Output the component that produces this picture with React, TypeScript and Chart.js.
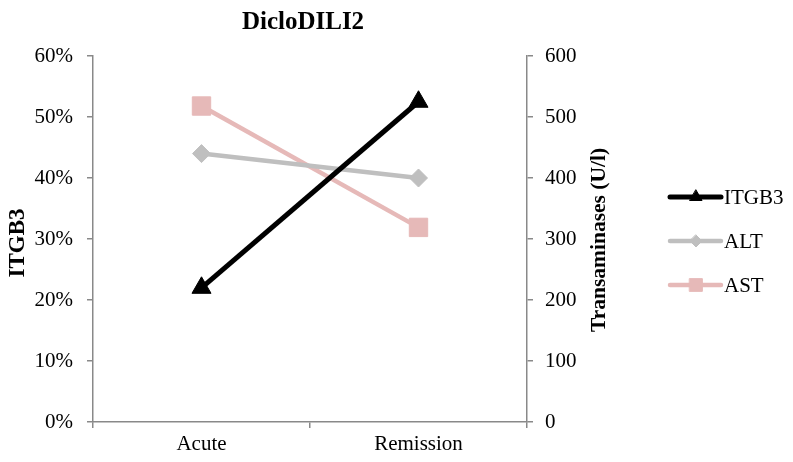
import React, { useEffect, useRef } from "react";
import { Chart, registerables } from "chart.js";

Chart.register(...registerables);

const chartTitle = "DicloDILI2";
const categories = ["Acute", "Remission"];
const itgb3 = [0.22, 0.525];
const alt = [440, 400];
const ast = [518, 319];
const leftTicks = [0, 0.1, 0.2, 0.3, 0.4, 0.5, 0.6];
const rightTicks = [0, 100, 200, 300, 400, 500, 600];
const leftTitle = "ITGB3";
const rightTitle = "Transaminases (U/l)";

const FONT = "'Liberation Serif', 'Times New Roman', serif";
const AXIS = "#898989";

function drawMarker(ctx: CanvasRenderingContext2D, style: string, r: number, x: number, y: number) {
  ctx.beginPath();
  if (style === "triangle") {
    ctx.moveTo(x, y - r);
    ctx.lineTo(x + r * 0.866, y + r * 0.5);
    ctx.lineTo(x - r * 0.866, y + r * 0.5);
    ctx.closePath();
  } else if (style === "rectRot") {
    ctx.moveTo(x, y - r);
    ctx.lineTo(x + r, y);
    ctx.lineTo(x, y + r);
    ctx.lineTo(x - r, y);
    ctx.closePath();
  } else {
    const s = r * Math.SQRT1_2;
    ctx.rect(x - s, y - s, 2 * s, 2 * s);
  }
  ctx.fill();
  ctx.stroke();
}

const customPlugin = {
  id: "custom",
  afterDraw(chart: any) {
    const ctx = chart.ctx;
    ctx.save();
    ctx.fillStyle = "#000";
    ctx.font = `bold 25px ${FONT}`;
    ctx.textAlign = "center";
    ctx.textBaseline = "middle";
    ctx.fillText(chartTitle, 303, 23);

    // axis titles (both read bottom-to-top)
    ctx.save();
    ctx.translate(18, 243);
    ctx.rotate(-Math.PI / 2);
    ctx.font = `bold 23px ${FONT}`;
    ctx.fillText(leftTitle, 0, 0);
    ctx.restore();

    ctx.save();
    ctx.translate(599, 240);
    ctx.rotate(-Math.PI / 2);
    ctx.font = `bold 21.5px ${FONT}`;
    ctx.fillText(rightTitle, 0, 0);
    ctx.restore();

    const markers = [
      { style: "triangle", r: 7 },
      { style: "rectRot", r: 6 },
      { style: "rect", r: 9 },
    ];
    chart.data.datasets.forEach((ds: any, i: number) => {
      const y = 197 + i * 44;
      ctx.strokeStyle = ds.borderColor;
      ctx.lineWidth = ds.borderWidth;
      ctx.lineCap = "round";
      ctx.beginPath();
      ctx.moveTo(670, y);
      ctx.lineTo(721, y);
      ctx.stroke();
      ctx.fillStyle = ds.pointBackgroundColor;
      ctx.strokeStyle = ds.pointBorderColor;
      ctx.lineWidth = 1;
      drawMarker(ctx, markers[i].style, markers[i].r, 696, y);
      ctx.fillStyle = "#000";
      ctx.font = `21px ${FONT}`;
      ctx.textAlign = "left";
      ctx.fillText(ds.label, 724, y + 1);
    });
    ctx.restore();
  },
};

export default function App() {
  const ref = useRef<HTMLCanvasElement>(null);
  useEffect(() => {
    if (!ref.current) return;
    const chart = new Chart(ref.current, {
      type: "line",
      data: {
        labels: categories,
        datasets: [
          {
            label: "ITGB3",
            data: itgb3,
            yAxisID: "yL",
            borderColor: "#000000",
            backgroundColor: "#000000",
            pointBackgroundColor: "#000000",
            pointBorderColor: "#000000",
            borderWidth: 5,
            pointStyle: "triangle",
            pointRadius: 11,
            pointBorderWidth: 1,
          },
          {
            label: "ALT",
            data: alt,
            yAxisID: "yR",
            borderColor: "#BFBFBF",
            backgroundColor: "#BFBFBF",
            pointBackgroundColor: "#BFBFBF",
            pointBorderColor: "#BFBFBF",
            borderWidth: 4.5,
            pointStyle: "rectRot",
            pointRadius: 9,
            pointBorderWidth: 1,
          },
          {
            label: "AST",
            data: ast,
            yAxisID: "yR",
            borderColor: "#E6B9B8",
            backgroundColor: "#E6B9B8",
            pointBackgroundColor: "#E6B9B8",
            pointBorderColor: "#E6B9B8",
            borderWidth: 4.5,
            pointStyle: "rect",
            pointRadius: 13,
            pointBorderWidth: 1,
          },
        ],
      },
      options: {
        animation: false,
        responsive: false,
        maintainAspectRatio: false,
        layout: { padding: { top: 56, right: 181, left: 0, bottom: 0 } },
        plugins: { legend: { display: false }, title: { display: false }, tooltip: { enabled: false } },
        scales: {
          x: {
            type: "category",
            offset: true,
            afterFit: (s: any) => { s.height = 40; },
            grid: { drawOnChartArea: false, color: AXIS, lineWidth: 1.5, tickLength: 6, offset: true },
            border: { color: AXIS, width: 1.5 },
            ticks: { color: "#000", font: { family: FONT, size: 21 }, padding: 4, maxRotation: 0 },
          },
          yL: {
            type: "linear",
            position: "left",
            min: 0,
            max: 0.6,
            afterFit: (s: any) => { s.width = 93; },
            afterBuildTicks: (s: any) => { s.ticks = leftTicks.map((v) => ({ value: v })); },
            grid: { drawOnChartArea: false, color: AXIS, lineWidth: 1.5, tickLength: 6 },
            border: { color: AXIS, width: 1.5 },
            ticks: {
              color: "#000",
              font: { family: FONT, size: 21 },
              padding: 14,
              callback: (v: any) => Math.round(Number(v) * 100) + "%",
            },
          },
          yR: {
            type: "linear",
            position: "right",
            min: 0,
            max: 600,
            afterFit: (s: any) => { s.width = 85; },
            afterBuildTicks: (s: any) => { s.ticks = rightTicks.map((v) => ({ value: v })); },
            grid: { drawOnChartArea: false, color: AXIS, lineWidth: 1.5, tickLength: 6 },
            border: { color: AXIS, width: 1.5 },
            ticks: { color: "#000", font: { family: FONT, size: 21 }, padding: 12 },
          },
        },
      } as any,
      plugins: [customPlugin],
    });
    return () => chart.destroy();
  }, []);
  return (
    <div style={{ position: "fixed", left: 0, top: 0, width: 793, height: 462, background: "#fff" }}>
      <canvas ref={ref} width={793} height={462} style={{ width: 793, height: 462 }} />
    </div>
  );
}
